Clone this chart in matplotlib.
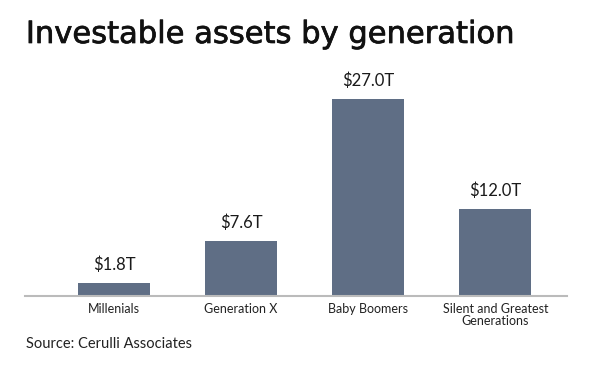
import matplotlib
matplotlib.use('Agg')
import matplotlib.pyplot as plt
import matplotlib.patheffects as pe

# Data
generations = ['Millenials', 'Generation X', 'Baby Boomers', 'Silent and Greatest\nGenerations']
assets = [1.8, 7.6, 27.0, 12.0]
value_labels = ['$1.8T', '$7.6T', '$27.0T', '$12.0T']

plt.rcParams['font.family'] = ['Lato', 'DejaVu Sans']

fig = plt.figure(figsize=(5.89, 3.77), dpi=100)
ax = fig.add_axes([0.0424, 0.2149, 0.920, 0.580])

x = range(len(generations))
bars = ax.bar(x, assets, width=0.566, color='#5f6e85')

for bar, lab in zip(bars, value_labels):
    ax.annotate(lab, (bar.get_x() + bar.get_width() / 2, bar.get_height()),
                xytext=(0, 7), textcoords='offset points',
                ha='center', va='bottom', fontsize=12, color='#1a1a1a')

ax.set_xlim(-0.70, 3.562)
ax.set_ylim(0, 30)
ax.set_xticks(list(x))
ax.set_xticklabels(generations, fontsize=9, color='#222222', linespacing=1.0)
ax.tick_params(axis='x', length=0, pad=5)
ax.set_yticks([])

for side in ['top', 'right', 'left']:
    ax.spines[side].set_visible(False)
ax.spines['bottom'].set_color('#bbbbbb')
ax.spines['bottom'].set_linewidth(1.5)

# title: DejaVu regular with a thin outline to get a medium weight
fig.text(0.044, 1 - 43 / 377, 'Investable assets by generation',
         fontsize=22, fontweight='normal', color='#111111', va='baseline',
         family=['DejaVu Sans'],
         path_effects=[pe.withStroke(linewidth=0.5, foreground='#111111')])
fig.text(0.044, 1 - 348 / 377, 'Source: Cerulli Associates',
         fontsize=10.5, color='#222222', va='baseline')

plt.savefig('out.png', dpi=100)
